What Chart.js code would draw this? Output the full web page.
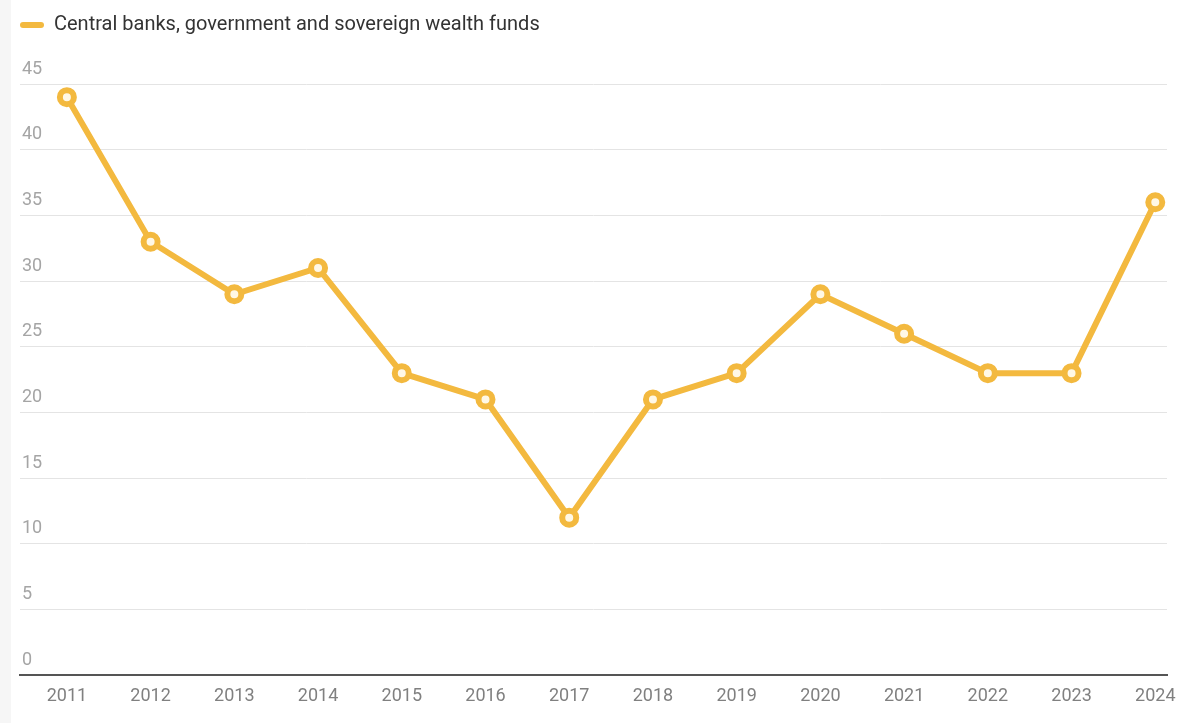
<!DOCTYPE html>
<html>
<head>
<meta charset="utf-8">
<script src="https://cdn.jsdelivr.net/npm/chart.js@4/dist/chart.umd.min.js"></script>
<style>
  html, body { margin: 0; padding: 0; background: #fff; }
  .wrap { position: relative; width: 1180px; height: 723px; box-sizing: border-box; border-left: 11px solid #f6f6f6; }
  .wrap canvas { position: absolute; left: -11px; top: 0; }
</style>
</head>
<body>
<div class="wrap"><canvas id="myChart" width="1180" height="723"></canvas></div>
<script>
const years = [2011, 2012, 2013, 2014, 2015, 2016, 2017, 2018, 2019, 2020, 2021, 2022, 2023, 2024];
const buyers = [44, 33, 29, 31, 23, 21, 12, 21, 23, 29, 26, 23, 23, 36];
const seriesName = "Central banks, government and sovereign wealth funds";

const gold = "#f3b93f";

// pushes the plot down below the legend
const legendGap = {
  id: "legendGap",
  beforeInit(chart) {
    const fit = chart.legend.fit;
    chart.legend.fit = function () {
      fit.bind(chart.legend)();
      this.height += 39;
    };
  },
};

const data = {
  datasets: [
    {
      label: seriesName,
      data: years.map((y, i) => ({ x: y, y: buyers[i] })),
      borderColor: gold,
      backgroundColor: gold,
      borderWidth: 6,
      pointRadius: 7,
      pointBorderWidth: 6,
      pointBackgroundColor: "#fff8e6",
      pointBorderColor: gold,
      tension: 0,
    },
  ],
};

const config = {
  type: "line",
  data: data,
  plugins: [legendGap],
  options: {
    responsive: false,
    animation: false,
    layout: {
      padding: { left: 10, right: 12, top: 5, bottom: 6 },
    },
    scales: {
      x: {
        type: "linear",
        min: 2010.44,
        max: 2024.14,
        afterFit: (scale) => { scale.paddingLeft = 0; scale.paddingRight = 0; },
        grid: { display: false, drawTicks: false },
        border: { display: true, color: "#555", width: 2 },
        ticks: {
          stepSize: 1,
          includeBounds: false,
          padding: 10,
          color: "#808080",
          font: { family: "Roboto", size: 18 },
          callback: (v) => String(v),
        },
      },
      y: {
        min: 0,
        max: 45,
        afterFit: (scale) => { scale.width = 10; },
        grid: { color: "#e4e4e4", lineWidth: 1, drawTicks: false },
        border: { display: false },
        ticks: {
          stepSize: 5,
          mirror: true,
          padding: 2,
          labelOffset: -15,
          color: "#a5a5a5",
          font: { family: "Roboto", size: 18 },
        },
      },
    },
    plugins: {
      legend: {
        display: true,
        align: "start",
        labels: {
          boxWidth: 24,
          boxHeight: 6,
          useBorderRadius: true,
          borderRadius: 3,
          color: "#333",
          padding: 10,
          font: { family: "Roboto", size: 20 },
          generateLabels: (chart) =>
            Chart.defaults.plugins.legend.labels.generateLabels(chart).map((l) => ({ ...l, lineWidth: 0 })),
        },
      },
      tooltip: { enabled: false },
    },
  },
};

const myChart = new Chart(document.getElementById("myChart"), config);
</script>
</body>
</html>
